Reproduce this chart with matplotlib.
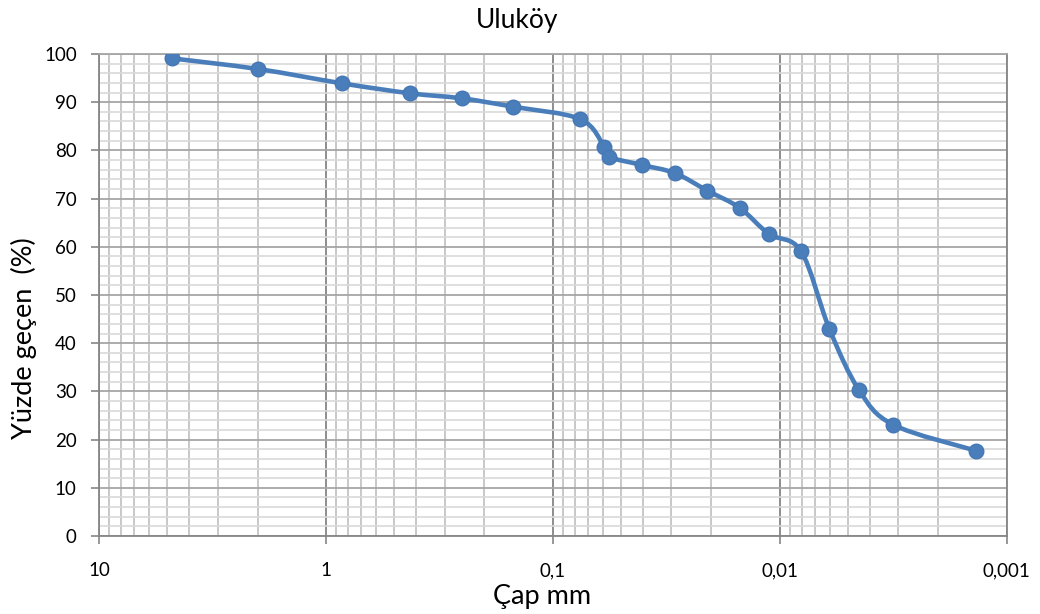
import matplotlib
matplotlib.use("Agg")
import matplotlib.pyplot as plt
import numpy as np
from matplotlib.path import Path
from matplotlib.patches import PathPatch
from matplotlib.ticker import FixedLocator, MultipleLocator

plt.rcParams["font.family"] = ["Lato", "DejaVu Sans"]

title = "Uluköy"
x_label = "Çap mm"
y_label = "Yüzde geçen  (%)"

diameter_mm = [4.78, 2.0, 0.847, 0.426, 0.252, 0.150, 0.0755, 0.0592, 0.0567,
               0.0404, 0.0289, 0.0208, 0.0150, 0.01115, 0.00804, 0.00604,
               0.00447, 0.00316, 0.001365]
passing_pct = [99.1, 96.9, 93.9, 91.85, 90.8, 89.07, 86.47, 80.64, 78.67,
               76.97, 75.27, 71.64, 68.09, 62.66, 59.07, 43.0, 30.29, 23.09, 17.7]

x_ticks = [10, 1, 0.1, 0.01, 0.001]
x_tick_labels = ["10", "1", "0,1", "0,01", "0,001"]

line_color = "#4A7EBB"


def smooth_path(xs, ys):
    # Excel-like smoothed line: cubic Bezier segments built in (log x, y) space
    lx = np.log10(xs)
    y = np.asarray(ys, dtype=float)
    n = len(lx)
    verts = [(xs[0], y[0])]
    codes = [Path.MOVETO]
    for i in range(n - 1):
        i0 = max(i - 1, 0)
        i3 = min(i + 2, n - 1)
        c1x = lx[i] + (lx[i + 1] - lx[i0]) / 6
        c1y = y[i] + (y[i + 1] - y[i0]) / 6
        c2x = lx[i + 1] - (lx[i3] - lx[i]) / 6
        c2y = y[i + 1] - (y[i3] - y[i]) / 6
        verts += [(10 ** c1x, c1y), (10 ** c2x, c2y), (xs[i + 1], y[i + 1])]
        codes += [Path.CURVE4] * 3
    return Path(verts, codes)


W, H = 1040, 614
fig = plt.figure(figsize=(W / 100, H / 100), dpi=100)
ax = fig.add_axes([99 / W, 1 - 536 / H, 907.5 / W, 482 / H])

ax.set_xscale("log")
ax.set_xlim(10, 0.001)
ax.set_ylim(0, 100)

ax.set_xticks(x_ticks)
ax.set_xticklabels(x_tick_labels)
minor = [m * 10.0 ** e for e in range(-3, 1) for m in range(2, 10)]
ax.xaxis.set_minor_locator(FixedLocator(minor))
ax.yaxis.set_major_locator(MultipleLocator(10))
ax.yaxis.set_minor_locator(MultipleLocator(2))

ax.grid(which="major", axis="x", color="#858585", lw=1.3)
ax.grid(which="minor", axis="x", color="#BFBFBF", lw=1.2)
ax.grid(which="major", axis="y", color="#A6A6A6", lw=1.3)
ax.grid(which="minor", axis="y", color="#D9D9D9", lw=1.2)
ax.set_axisbelow(True)

ax.tick_params(which="minor", length=0)
ax.tick_params(which="major", length=6, width=1.2, color="#868686",
               labelsize=13.5, labelcolor="#000000")
ax.tick_params(axis="y", pad=10)
ax.tick_params(axis="x", pad=13)

for side in ("left", "bottom"):
    ax.spines[side].set_color("#868686")
    ax.spines[side].set_linewidth(1.3)
ax.spines["top"].set_color("#A6A6A6")
ax.spines["top"].set_linewidth(1.3)
ax.spines["right"].set_color("#858585")
ax.spines["right"].set_linewidth(1.3)

ax.add_patch(PathPatch(smooth_path(diameter_mm, passing_pct), fill=False,
                       edgecolor=line_color, lw=3.3, capstyle="round",
                       zorder=3))
ax.plot(diameter_mm, passing_pct, ls="none", marker="o", ms=10.5,
        color=line_color, mec="#4577B5", mew=1.0, zorder=4)

fig.text(517 / W, 1 - 28 / H, title, fontsize=19, ha="center", va="baseline")
fig.text(542 / W, 1 - 604 / H, x_label, fontsize=19.5, ha="center",
         va="baseline")
fig.text(11 / W, 1 - 338 / H, y_label, fontsize=19.5, rotation=90,
         ha="left", va="center")

fig.savefig("out.png", dpi=100)
